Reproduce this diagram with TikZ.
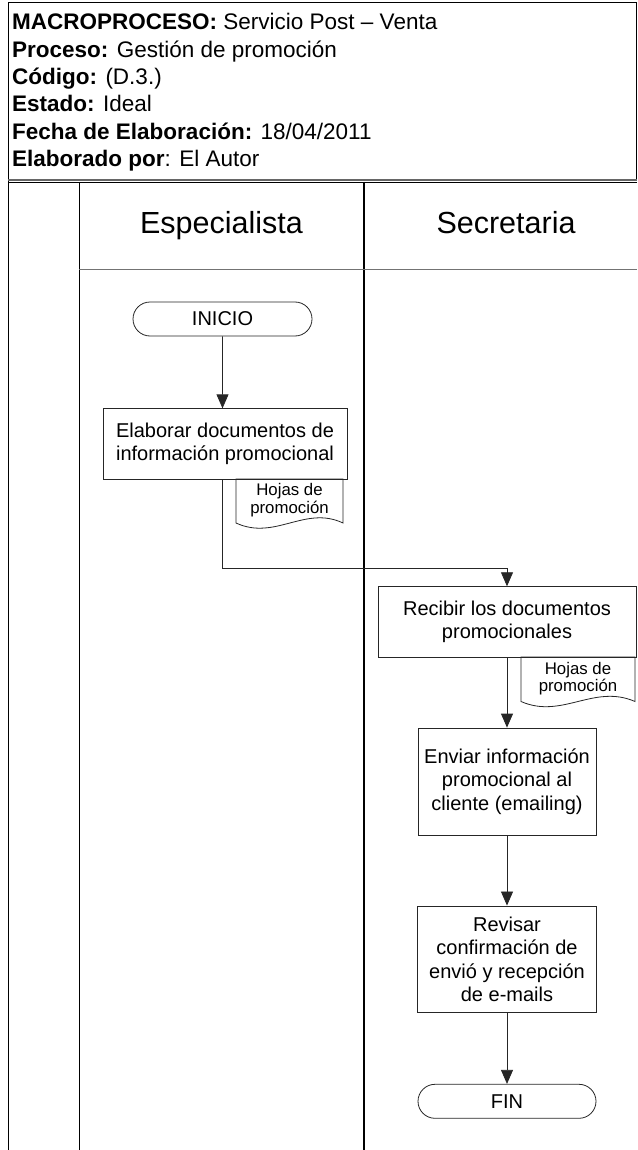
\documentclass[tikz,border=0pt]{standalone}
\usepackage{fontspec}
\setmainfont{Liberation Sans}
\usetikzlibrary{shapes.misc, arrows.meta, positioning}
\newcommand{\pxunit}{1pt}

\begin{document}
\begin{tikzpicture}[x=\pxunit, y=-\pxunit]
\useasboundingbox (0,0) rectangle (637,1150);
\tikzstyle{cabecera}=[anchor=base west, inner sep=0pt,
			font=\fontsize{22.5}{26}\selectfont]
\tikzstyle{carril}=[line width=1.2pt, black]
\tikzstyle{titulo}=[anchor=base, inner sep=0pt,
			font=\fontsize{30.5}{35}\selectfont]
\tikzstyle{terminal}=[draw=black!85, rounded rectangle, line width=0.8pt,
			minimum width=179, minimum height=34, inner sep=0pt,
			font=\fontsize{20}{23}\selectfont]
\tikzstyle{proceso}=[draw=black!85, rectangle, line width=0.8pt,
			align=center, inner sep=0pt,
			font=\fontsize{20}{23.3}\selectfont]
\tikzstyle{hoja}=[draw=black!85, line width=0.8pt]
\tikzstyle{hojatexto}=[align=center, inner sep=0pt,
			font=\fontsize{16.8}{17.7}\selectfont]
\tikzstyle{flujo}=[draw=black!85, line width=0.8pt,
			-{Triangle[length=14pt, width=12pt]}]

% marco del encabezado
\draw[line width=1pt] (8,1150) -- (8,3) -- (636,3) -- (636,180);
\draw[line width=1.2pt, black!60] (8,180) -- (637,180);
\draw[line width=1pt] (8,182.2) -- (637,182.2);

\node[cabecera] (macro) at (12,30) {\textbf{MACROPROCESO:} Servicio Post – Venta};
\node[cabecera] (proc) at (12,57.3) {\textbf{Proceso:} Gestión de promoción};
\node[cabecera] (cod) at (12,84.6) {\textbf{Código:} (D.3.)};
\node[cabecera] (estado) at (12,112) {\textbf{Estado:} Ideal};
\node[cabecera] (fecha) at (12,139.2) {\textbf{Fecha de Elaboración:} 18/04/2011};
\node[cabecera] (autor) at (12,166.6) {\textbf{Elaborado por}: El Autor};

% carriles
\draw[carril] (79.3,182) -- (79.3,1150);
\draw[carril] (364,182) -- (364,1150);
\draw[line width=1.3pt, black!55] (79.3,269.5) -- (637,269.5);

\node[titulo] (especialista) at (221.5,234) {Especialista};
\node[titulo] (secretaria) at (506,234) {Secretaria};

% especialista
\node[terminal] (inicio) at (222.5,319) {INICIO};
\node[proceso, minimum width=244, minimum height=70.5] (elaborar) at (225,444)
	{Elaborar documentos de\\información promocional};

\draw[hoja] (236,479) -- (236,523) .. controls (275,541) and (305,505) .. (343,523) -- (343,479) -- cycle;
\node[hojatexto] (hoja1) at (289.5,500) {Hojas de\\promoción};

% secretaria
\node[proceso, minimum width=258, minimum height=70.6] (recibir) at (507,622)
	{Recibir los documentos\\promocionales};

\draw[hoja] (521,657) -- (521,701.5) .. controls (562,719.5) and (594,683.5) .. (635,701.5) -- (635,657) -- cycle;
\node[hojatexto] (hoja2) at (578,678.5) {Hojas de\\promoción};

\node[proceso, minimum width=178, minimum height=107] (enviar) at (507,781.5)
	{Enviar información\\promocional al\\cliente (emailing)};
\node[proceso, minimum width=178.5, minimum height=106.7] (revisar) at (507,959.3)
	{Revisar\\confirmación de\\envió y recepción\\de e-mails};
\node[terminal, minimum width=178] (fin) at (507,1101.3) {FIN};

% conectores
\coordinate (codo) at (222.5,568.3);
\draw[flujo] (inicio) -- (inicio |- elaborar.north);
\draw[flujo] (elaborar.south -| inicio) -- (codo) -| (recibir.north);
\draw[flujo] (recibir) -- (enviar);
\draw[flujo] (enviar) -- (revisar);
\draw[flujo] (revisar) -- (fin);

\end{tikzpicture}
\end{document}
